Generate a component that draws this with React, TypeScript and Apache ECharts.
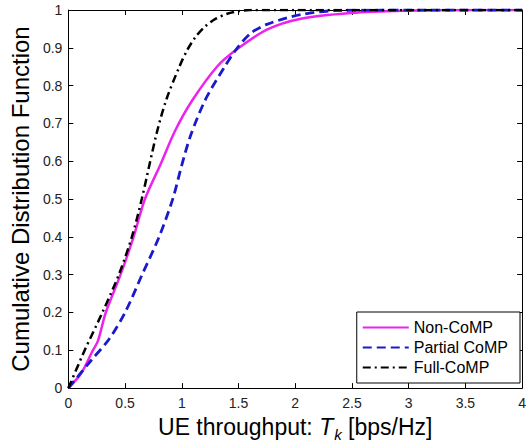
import React, { useEffect, useRef } from "react";
import * as echarts from "echarts";

const xTicks = ["0", "0.5", "1", "1.5", "2", "2.5", "3", "3.5", "4"];
const yTicks = ["0", "0.1", "0.2", "0.3", "0.4", "0.5", "0.6", "0.7", "0.8", "0.9", "1"];

const seriesNames = ["Non-CoMP", "Partial CoMP", "Full-CoMP"];

const nonCompX = [0, 0.115, 0.216, 0.26, 0.33, 0.46, 0.575, 0.675, 0.81, 0.94, 1.09, 1.31, 1.48, 1.75, 2.05, 2.49, 2.95, 3.5, 4];
const nonCompY = [0, 0.04, 0.1, 0.124, 0.2, 0.3, 0.4, 0.5, 0.59, 0.68, 0.76, 0.85, 0.895, 0.948, 0.977, 0.992, 0.998, 1, 1];

const partialX = [0, 0.2, 0.36, 0.5, 0.65, 0.8, 0.92, 1.0, 1.08, 1.21, 1.38, 1.49, 1.61, 1.75, 2.05, 2.4, 3, 4];
const partialY = [0, 0.073, 0.13, 0.2, 0.3, 0.4, 0.5, 0.59, 0.67, 0.764, 0.851, 0.9, 0.939, 0.962, 0.988, 0.999, 1, 1];

const fullX = [0, 0.144, 0.3, 0.445, 0.56, 0.647, 0.78, 0.865, 0.98, 1.05, 1.12, 1.2, 1.3, 1.4, 1.5, 1.6, 2, 4];
const fullY = [0, 0.1, 0.2, 0.3, 0.4, 0.5, 0.676, 0.764, 0.851, 0.895, 0.928, 0.955, 0.977, 0.99, 0.997, 1, 1, 1];

const zip = (xs: number[], ys: number[]) => xs.map((x, i) => [x, ys[i]]);

const FONT = "'Liberation Sans', Arial, Helvetica, sans-serif";

export default function App() {
  const ref = useRef<HTMLDivElement>(null);
  useEffect(() => {
    if (!ref.current) return;
    const chart = echarts.init(ref.current, undefined, { renderer: "svg" });
    const tickStyle = { show: true, inside: true, length: 5, lineStyle: { color: "#000", width: 1 } };
    const lineStyleAxis = { show: true, onZero: false, lineStyle: { color: "#000", width: 1 } };
    chart.setOption({
      animation: false,
      backgroundColor: "#fff",
      textStyle: { fontFamily: FONT },
      grid: { left: 59, top: 10, right: 3, bottom: 56, containLabel: false },
      legend: {
        orient: "vertical",
        right: 9,
        bottom: 64,
        backgroundColor: "#fff",
        borderColor: "#000",
        borderWidth: 1,
        borderRadius: 0,
        padding: [7, 12, 7, 5],
        itemWidth: 46,
        itemHeight: 12,
        itemGap: 3,
        itemStyle: { opacity: 0 },
        textStyle: { fontSize: 16, lineHeight: 17, color: "#000", fontFamily: FONT },
        data: seriesNames,
      },
      xAxis: [
        {
          type: "value",
          min: 0,
          max: 4,
          interval: 0.5,
          position: "bottom",
          axisLine: lineStyleAxis,
          axisTick: tickStyle,
          splitLine: { show: false },
          axisLabel: {
            fontSize: 14,
            color: "#222",
            margin: 8,
            formatter: (v: number) => xTicks[Math.round(v / 0.5)] ?? "",
          },
          name: "{a|UE throughput: }{i|T}{s|k}{a| [bps/Hz]}",
          nameLocation: "middle",
          nameGap: 22,
          nameTextStyle: {
            rich: {
              a: { fontSize: 23, color: "#000", fontFamily: FONT },
              i: { fontSize: 23, color: "#000", fontStyle: "italic", fontFamily: FONT },
              s: { fontSize: 15, color: "#000", fontStyle: "italic", fontFamily: FONT, padding: [16, 0, 0, 1] },
            },
          },
        },
        {
          type: "value",
          min: 0,
          max: 4,
          interval: 0.5,
          position: "top",
          axisLine: lineStyleAxis,
          axisTick: tickStyle,
          axisLabel: { show: false },
          splitLine: { show: false },
        },
      ],
      yAxis: [
        {
          type: "value",
          min: 0,
          max: 1,
          interval: 0.1,
          position: "left",
          axisLine: lineStyleAxis,
          axisTick: tickStyle,
          splitLine: { show: false },
          axisLabel: {
            fontSize: 14,
            color: "#222",
            margin: 6,
            formatter: (v: number) => yTicks[Math.round(v * 10)] ?? "",
          },
          name: "Cumulative Distribution Function",
          nameLocation: "middle",
          nameGap: 34,
          nameTextStyle: { fontSize: 24, color: "#000", fontFamily: FONT },
        },
        {
          type: "value",
          min: 0,
          max: 1,
          interval: 0.1,
          position: "right",
          axisLine: lineStyleAxis,
          axisTick: tickStyle,
          axisLabel: { show: false },
          splitLine: { show: false },
        },
      ],
      series: [
        {
          name: seriesNames[0],
          type: "line",
          data: zip(nonCompX, nonCompY),
          smooth: 0.3,
          symbol: "none",
          lineStyle: { color: "#ee22ee", width: 2.5, type: "solid" },
          itemStyle: { color: "#ee22ee" },
          z: 2,
        },
        {
          name: seriesNames[1],
          type: "line",
          data: zip(partialX, partialY),
          smooth: 0.3,
          symbol: "none",
          lineStyle: { color: "#1a1acc", width: 2.8, type: [9, 5] },
          itemStyle: { color: "#1a1acc" },
          z: 3,
        },
        {
          name: seriesNames[2],
          type: "line",
          data: zip(fullX, fullY),
          smooth: 0.3,
          symbol: "none",
          lineStyle: { color: "#000", width: 2.5, type: [8, 4, 2, 4] },
          itemStyle: { color: "#000" },
          z: 4,
        },
      ],
    });
    return () => chart.dispose();
  }, []);
  return <div ref={ref} style={{ width: 529, height: 447, position: "absolute", left: 0, top: 0 }} />;
}
